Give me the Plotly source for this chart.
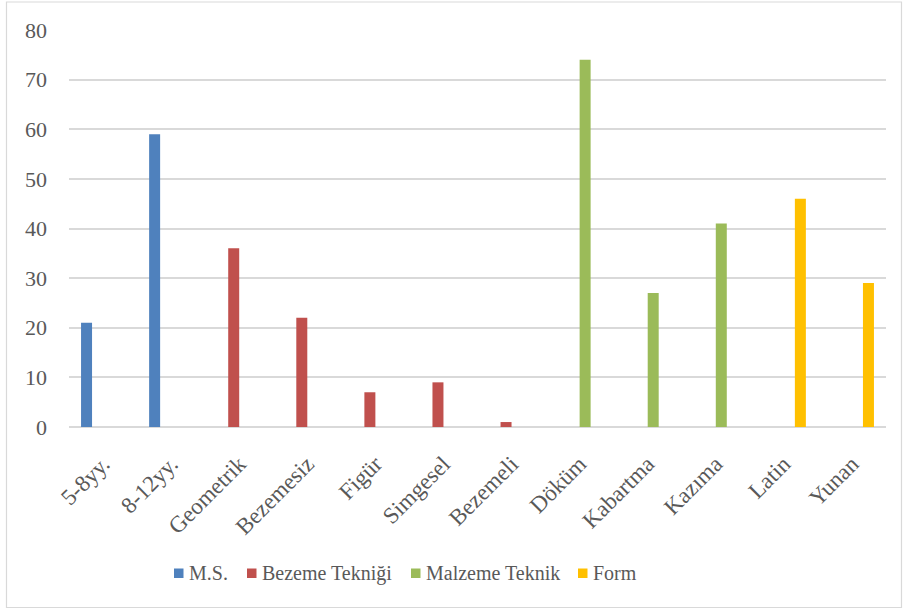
import plotly.graph_objects as go

categories = ["5-8yy.", "8-12yy.", "Geometrik", "Bezemesiz", "Figür", "Simgesel",
              "Bezemeli", "Döküm", "Kabartma", "Kazıma", "Latin", "Yunan"]

ms = [21, 59, None, None, None, None, None, None, None, None, None, None]
bezeme = [None, None, 36, 22, 7, 9, 1, None, None, None, None, None]
malzeme = [None, None, None, None, None, None, None, 74, 27, 41, None, None]
form = [None, None, None, None, None, None, None, None, None, None, 46, 29]

series_names = ["M.S.", "Bezeme Tekniği", "Malzeme Teknik", "Form"]
series_values = [ms, bezeme, malzeme, form]
series_colors = ["#4F81BD", "#C0504D", "#9BBB59", "#FFC000"]

font_family = "Liberation Serif"
text_color = "#595959"

fig = go.Figure()
for name, vals, color in zip(series_names, series_values, series_colors):
    fig.add_trace(go.Bar(x=categories, y=vals, name=name, marker_color=color,
                         marker_line_width=0, showlegend=False))

# plot-area pixel geometry
W, H = 905, 612
L, R, T, B = 69, 19, 30, 185
pw, ph = W - L - R, H - T - B

def px_x(x):
    return (x - L) / pw

def px_y(y):
    return (H - B - y) / ph

# outer chart frame
fig.add_shape(type="rect", xref="paper", yref="paper",
              x0=px_x(6.5), x1=px_x(901.5), y0=px_y(607.5), y1=px_y(2),
              line=dict(color="#d9d9d9", width=1.2), fillcolor="rgba(0,0,0,0)",
              layer="below")

# legend row: colour key followed by its label
legend_starts = [174, 247, 411, 578]
legend_y = 573
for name, color, x0 in zip(series_names, series_colors, legend_starts):
    fig.add_shape(type="rect", xref="paper", yref="paper",
                  x0=px_x(x0), x1=px_x(x0 + 9.5), y0=px_y(legend_y + 5), y1=px_y(legend_y - 4.5),
                  line_width=0, fillcolor=color)
    fig.add_annotation(xref="paper", yref="paper", x=px_x(x0 + 12.5), y=px_y(legend_y),
                       text=name, showarrow=False, xanchor="left", yanchor="middle",
                       font=dict(family=font_family, size=20, color=text_color))

fig.update_layout(
    width=W, height=H,
    margin=dict(l=L, r=R, t=T, b=B),
    paper_bgcolor="white", plot_bgcolor="white",
    barmode="group", bargap=0.354, bargroupgap=0,
    font=dict(family=font_family, size=22, color=text_color),
    showlegend=False,
    xaxis=dict(tickangle=-45, showgrid=False, showline=False, ticks="",
               ticklabelstandoff=18,
               tickfont=dict(family=font_family, size=23, color=text_color)),
    yaxis=dict(range=[0, 80], dtick=10, showgrid=True, gridcolor="#d9d9d9", gridwidth=1.5,
               zeroline=True, zerolinecolor="#d9d9d9", zerolinewidth=1.5,
               showline=False, ticks="", ticklabelstandoff=21,
               tickfont=dict(family=font_family, size=22, color=text_color)),
)

fig.write_html("out.html")
